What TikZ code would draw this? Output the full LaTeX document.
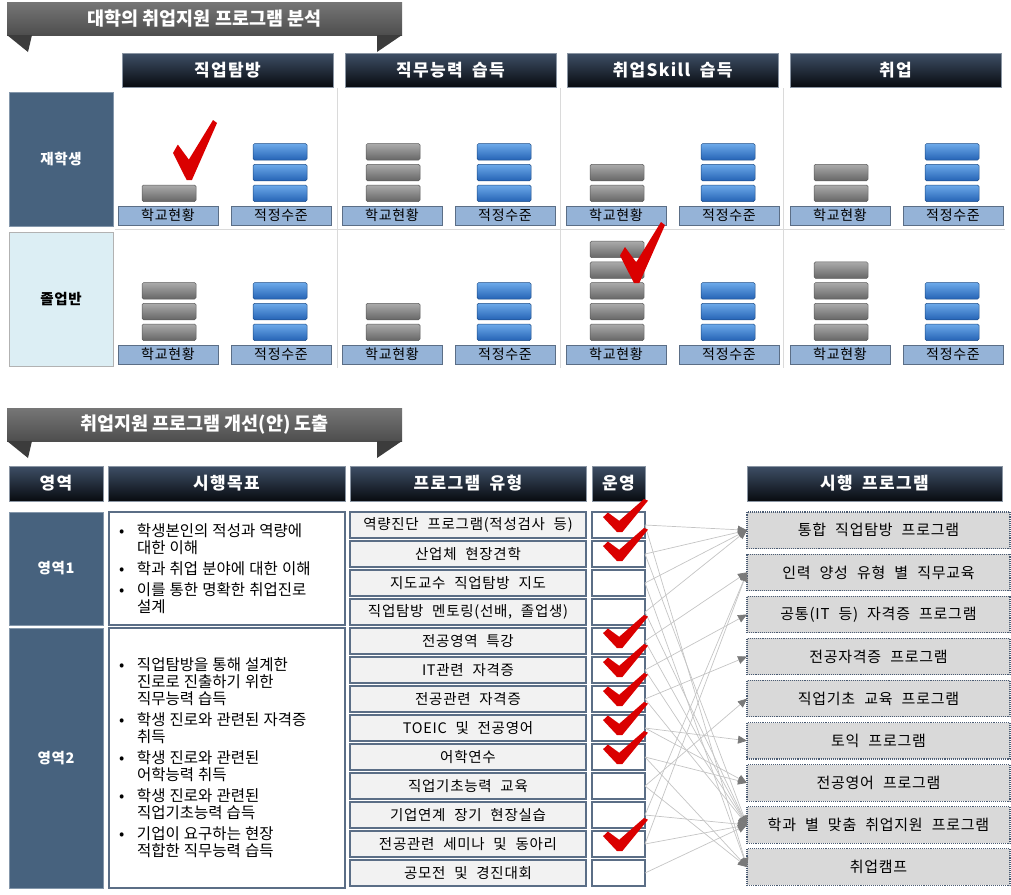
\documentclass[tikz,border=0pt]{standalone}
\usepackage{fontspec}
\setmainfont{Noto Sans CJK KR}
\newfontfamily\widekr{Noto Sans CJK KR}[LetterSpace=5, WordSpace=2.2]
\newfontfamily\headkr{Noto Sans CJK KR}[LetterSpace=8, WordSpace=1.8]
\usetikzlibrary{arrows.meta, positioning}
\definecolor{BannerTop}{HTML}{767676}
\definecolor{BannerBot}{HTML}{4E4E4E}
\definecolor{BannerFold}{HTML}{3C3C3C}
\definecolor{HeadTop}{HTML}{3E4F66}
\definecolor{HeadBot}{HTML}{080B10}
\definecolor{HeadEdge}{HTML}{8A95A3}
\definecolor{SlateBlue}{HTML}{47627E}
\definecolor{SlateEdge}{HTML}{8497AB}
\definecolor{PaleAqua}{HTML}{DCEEF4}
\definecolor{LabelBlue}{HTML}{95B3D7}
\definecolor{EdgeBlue}{HTML}{5B6E86}
\definecolor{BarGrayTop}{HTML}{ABABAB}
\definecolor{BarGrayBot}{HTML}{666666}
\definecolor{BarGrayEdge}{HTML}{5A5A5A}
\definecolor{BarBlueTop}{HTML}{6DAAEA}
\definecolor{BarBlueBot}{HTML}{2563B5}
\definecolor{BarBlueEdge}{HTML}{1D4C86}
\definecolor{CheckRed}{HTML}{DA0000}
\definecolor{GridGray}{HTML}{DADADA}
\definecolor{LinkGray}{HTML}{C4C4C4}
\definecolor{TipGray}{HTML}{7A7A7A}
\definecolor{ProgFill}{HTML}{F2F2F2}
\definecolor{OutFill}{HTML}{D9D9D9}
\definecolor{DotEdge}{HTML}{4A5B72}

\begin{document}
\begin{tikzpicture}[x=1pt, y=-1pt,
    banner/.style={
        rectangle, inner sep=0pt, outer sep=0pt, minimum width=395pt, minimum height=33pt,
        top color=BannerTop, bottom color=BannerBot, text=white,
        font=\fontsize{18.5}{22}\selectfont\bfseries
    },
    fold/.style={fill=BannerFold},
    header/.style={
        rectangle, inner sep=0pt, outer sep=0pt, minimum height=34pt,
        top color=HeadTop, bottom color=HeadBot, draw=HeadEdge, line width=0.6pt,
        text=white, font=\headkr\fontsize{17}{20}\selectfont\bfseries
    },
    rowdark/.style={
        rectangle, inner sep=0pt, outer sep=0pt, minimum width=104pt,
        fill=SlateBlue, draw=SlateEdge, line width=0.8pt,
        text=white, font=\widekr\fontsize{14.5}{17}\selectfont\bfseries
    },
    rowlight/.style={rowdark, fill=PaleAqua, draw=gray!60, text=black},
    tag/.style={
        rectangle, inner sep=0pt, outer sep=0pt, minimum width=100pt, minimum height=19pt,
        fill=LabelBlue, draw=EdgeBlue, line width=0.9pt, font=\widekr\fontsize{14}{16}\selectfont
    },
    graybar/.style={top color=BarGrayTop, bottom color=BarGrayBot, draw=BarGrayEdge, line width=0.5pt, rounded corners=1.5pt},
    bluebar/.style={top color=BarBlueTop, bottom color=BarBlueBot, draw=BarBlueEdge, line width=0.5pt, rounded corners=1.5pt},
    goal/.style={
        rectangle, fill=white, draw=EdgeBlue, line width=1.2pt, inner xsep=10pt, inner ysep=0pt,
        outer sep=0pt, text width=216pt
    },
    prog/.style={
        rectangle, fill=ProgFill, draw=EdgeBlue, line width=1.2pt, inner sep=0pt, outer sep=0pt,
        minimum width=236pt, minimum height=26pt, font=\widekr\fontsize{14.5}{16}\selectfont
    },
    runbox/.style={prog, fill=white, minimum width=53pt},
    outcome/.style={
        rectangle, fill=OutFill, draw=DotEdge, densely dotted, line width=1.1pt, inner sep=0pt,
        outer sep=0pt, minimum width=263pt, minimum height=36.5pt, font=\widekr\fontsize{15}{18}\selectfont
    },
    link/.style={draw=LinkGray, line width=0.7pt, -{Triangle[length=9pt, width=8pt, color=TipGray]}},
    gridline/.style={draw=GridGray, line width=0.8pt},
    chk/.pic={\fill[CheckRed] (0,0.55) -- (0.11,0.41) -- (0.36,0.66) -- (0.91,0) -- (1,0.05) -- (0.43,1) -- (0.31,1) -- cycle;}
]
    \useasboundingbox (0,0) rectangle (1011,894);

    % ---- upper part: analysis ----
    \node[banner, anchor=north west] (ban1) at (7,2) {대학의 취업지원 프로그램 분석};
    \fill[fold] (ban1.south west) -- ++(25,0) -- ++(-4,17) -- cycle;
    \fill[fold] (ban1.south east) -- ++(-25,0) -- ++(0,17) -- cycle;

    \node[header, anchor=north west, minimum width=211pt] (hExplore) at (122,53) {직업탐방};
    \node[header, anchor=north west, minimum width=211pt] (hDuty) at (345,53) {직무능력 습득};
    \node[header, anchor=north west, minimum width=211pt] (hSkill) at (567,53) {취업Skill 습득};
    \node[header, anchor=north west, minimum width=211pt] (hJob) at (790,53) {취업};

    \node[rowdark, anchor=north west, minimum height=134pt] (rStudent) at (9,92) {재학생};
    \node[rowlight, anchor=north west, minimum height=134pt] (rSenior) at (9,232) {졸업반};

    % cell borders
    \draw[gridline] (337,88) -- (337,368);
    \draw[gridline] (560,88) -- (560,368);
    \draw[gridline] (783,88) -- (783,368);
    \draw[gridline] (115,229) -- (1005,229);

    % labels under the stacks
    \foreach \c in {0,1,2,3}{
        \foreach \r/\t in {0/206, 1/345}{
            \node[tag, anchor=north west] (cur-\r-\c) at ({118+224*\c},\t) {학교현황};
            \node[tag, anchor=north west] (std-\r-\c) at ({231+224*\c},\t) {적정수준};
        }
    }

    % stacks
    \foreach \c/\n in {0/1, 1/3, 2/2, 3/2}
        \foreach \i in {1,...,\n}
            \draw[graybar] ({142+224*\c},{185-20.7*(\i-1)}) rectangle ++(54,16.5);
    \foreach \c/\n in {0/3, 1/2, 2/5, 3/4}
        \foreach \i in {1,...,\n}
            \draw[graybar] ({142+224*\c},{324-20.7*(\i-1)}) rectangle ++(54,16.5);
    \foreach \c in {0,1,2,3}
        \foreach \i in {1,2,3}{
            \draw[bluebar] ({253+224*\c},{185-20.7*(\i-1)}) rectangle ++(54,16.5);
            \draw[bluebar] ({253+224*\c},{324-20.7*(\i-1)}) rectangle ++(54,16.5);
        }

    \pic[xscale=44, yscale=60] at (173,120) {chk};
    \pic[xscale=45, yscale=61] at (620,222) {chk};

    % ---- lower part: improvement ----
    \node[banner, anchor=north west] (ban2) at (7,408) {취업지원 프로그램 개선(안) 도출};
    \fill[fold] (ban2.south west) -- ++(25,0) -- ++(-4,17) -- cycle;
    \fill[fold] (ban2.south east) -- ++(-25,0) -- ++(0,17) -- cycle;

    \node[header, anchor=north west, minimum width=94pt, minimum height=35pt] (hArea) at (9,466) {영역};
    \node[header, anchor=north west, minimum width=237pt, minimum height=35pt] (hGoal) at (108,466) {시행목표};
    \node[header, anchor=north west, minimum width=236pt, minimum height=35pt] (hType) at (350,466) {프로그램 유형};
    \node[header, anchor=north west, minimum width=53pt, minimum height=35pt] (hRun) at (592,466) {운영};
    \node[header, anchor=north west, minimum width=255pt, minimum height=35pt] (hProg) at (747,466) {시행 프로그램};

    \node[rowdark, anchor=north west, minimum width=94pt, minimum height=113pt] (area1) at (9,512) {영역1};
    \node[rowdark, anchor=north west, minimum width=94pt, minimum height=260pt] (area2) at (9,628) {영역2};

    \node[goal, anchor=north west, minimum height=113pt] (goal1) at (109,512) {%
        \fontsize{15.5}{17}\selectfont\spaceskip=4.2pt plus 1pt\setlength{\parskip}{4pt}%
        \hangindent=18pt \makebox[18pt][l]{\textbullet}학생본인의 적성과 역량에\newline 대한 이해\par
        \hangindent=18pt \makebox[18pt][l]{\textbullet}학과 취업 분야에 대한 이해\par
        \hangindent=18pt \makebox[18pt][l]{\textbullet}이를 통한 명확한 취업진로\newline 설계\par};
    \node[goal, anchor=north west, minimum height=260pt] (goal2) at (109,628) {%
        \fontsize{15.5}{17}\selectfont\spaceskip=4.2pt plus 1pt\setlength{\parskip}{4pt}%
        \hangindent=18pt \makebox[18pt][l]{\textbullet}직업탐방을 통해 설계한\newline 진로로 진출하기 위한\newline 직무능력 습득\par
        \hangindent=18pt \makebox[18pt][l]{\textbullet}학생 진로와 관련된 자격증\newline 취득\par
        \hangindent=18pt \makebox[18pt][l]{\textbullet}학생 진로와 관련된\newline 어학능력 취득\par
        \hangindent=18pt \makebox[18pt][l]{\textbullet}학생 진로와 관련된\newline 직업기초능력 습득\par
        \hangindent=18pt \makebox[18pt][l]{\textbullet}기업이 요구하는 현장\newline 적합한 직무능력 습득\par};

    % program types
    \node[prog, anchor=north west] (p1) at (350,512) {역량진단 프로그램(적성검사 등)};
    \node[prog, below=3pt of p1] (p2) {산업체 현장견학};
    \node[prog, below=3pt of p2] (p3) {지도교수 직업탐방 지도};
    \node[prog, below=3pt of p3] (p4) {직업탐방 멘토링(선배, 졸업생)};
    \node[prog, below=3pt of p4] (p5) {전공영역 특강};
    \node[prog, below=3pt of p5] (p6) {IT관련 자격증};
    \node[prog, below=3pt of p6] (p7) {전공관련 자격증};
    \node[prog, below=3pt of p7] (p8) {TOEIC 및 전공영어};
    \node[prog, below=3pt of p8] (p9) {어학연수};
    \node[prog, below=3pt of p9] (p10) {직업기초능력 교육};
    \node[prog, below=3pt of p10] (p11) {기업연계 장기 현장실습};
    \node[prog, below=3pt of p11] (p12) {전공관련 세미나 및 동아리};
    \node[prog, below=3pt of p12] (p13) {공모전 및 경진대회};

    % run column
    \node[runbox, right=6pt of p1] (u1) {};
    \node[runbox, right=6pt of p2] (u2) {};
    \node[runbox, right=6pt of p3] (u3) {};
    \node[runbox, right=6pt of p4] (u4) {};
    \node[runbox, right=6pt of p5] (u5) {};
    \node[runbox, right=6pt of p6] (u6) {};
    \node[runbox, right=6pt of p7] (u7) {};
    \node[runbox, right=6pt of p8] (u8) {};
    \node[runbox, right=6pt of p9] (u9) {};
    \node[runbox, right=6pt of p10] (u10) {};
    \node[runbox, right=6pt of p11] (u11) {};
    \node[runbox, right=6pt of p12] (u12) {};
    \node[runbox, right=6pt of p13] (u13) {};

    % programs carried out
    \node[outcome, anchor=north west] (r1) at (747,512) {통합 직업탐방 프로그램};
    \node[outcome, below=5.6pt of r1] (r2) {인력 양성 유형 별 직무교육};
    \node[outcome, below=5.6pt of r2] (r3) {공통(IT 등) 자격증 프로그램};
    \node[outcome, below=5.6pt of r3] (r4) {전공자격증 프로그램};
    \node[outcome, below=5.6pt of r4] (r5) {직업기초 교육 프로그램};
    \node[outcome, below=5.6pt of r5] (r6) {토익 프로그램};
    \node[outcome, below=5.6pt of r6] (r7) {전공영어 프로그램};
    \node[outcome, below=5.6pt of r7] (r8) {학과 별 맞춤 취업지원 프로그램};
    \node[outcome, below=5.6pt of r8] (r9) {취업캠프};

    % links
    \draw[link] (u1.east) -- (r1.west);
    \draw[link] (u1.east) -- (r9.west);
    \draw[link] (u2.east) -- (r1.west);
    \draw[link] (u2.east) -- (r8.west);
    \draw[link] (u3.east) -- (r1.west);
    \draw[link] (u3.east) -- (r9.west);
    \draw[link] (u4.east) -- (r1.west);
    \draw[link] (u4.east) -- (r8.west);
    \draw[link] (u5.east) -- (r2.west);
    \draw[link] (u5.east) -- (r8.west);
    \draw[link] (u6.east) -- (r3.west);
    \draw[link] (u6.east) -- (r8.west);
    \draw[link] (u7.east) -- (r4.west);
    \draw[link] (u7.east) -- (r8.west);
    \draw[link] (u8.east) -- (r6.west);
    \draw[link] (u8.east) -- (r7.west);
    \draw[link] (u9.east) -- (r7.west);
    \draw[link] (u9.east) -- (r9.west);
    \draw[link] (u10.east) -- (r5.west);
    \draw[link] (u10.east) -- (r9.west);
    \draw[link] (u11.east) -- (r2.west);
    \draw[link] (u11.east) -- (r8.west);
    \draw[link] (u12.east) -- (r2.west);
    \draw[link] (u12.east) -- (r8.west);
    \draw[link] (u13.east) -- (r8.west);

    % checks in the run column
    \foreach \k in {1,2,5,6,7,8,9,12}
        \pic[xscale=45, yscale=33] at ([shift={(11,-13)}]u\k.north west) {chk};

\end{tikzpicture}
\end{document}
